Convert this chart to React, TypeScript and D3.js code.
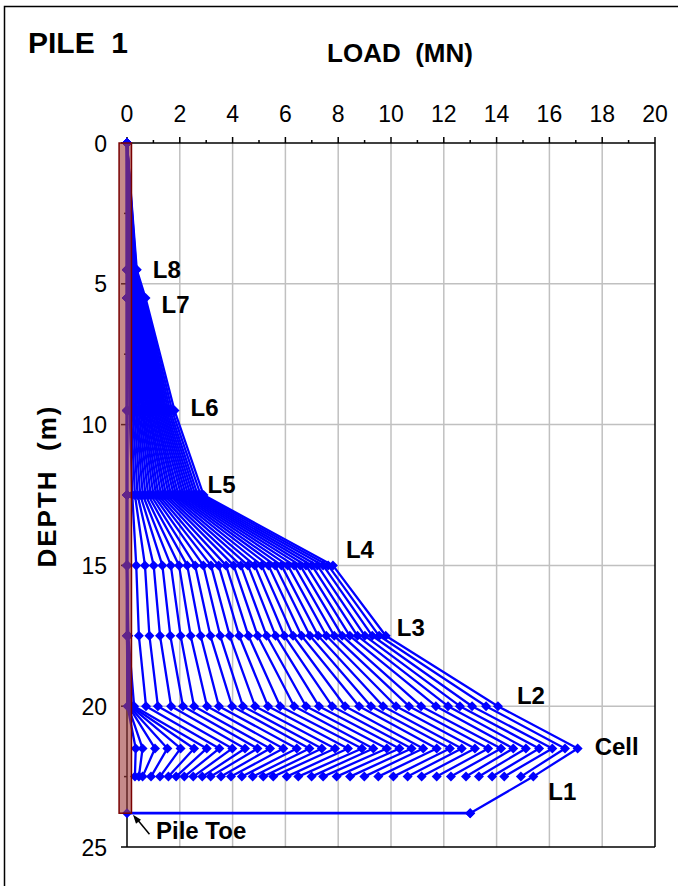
import React from 'react';
import * as d3 from 'd3';

const W = 678;
const H = 886;

// Gauge depths (m) from pile head down to the lowest gauge below the cell
const gaugeDepths = [0, 4.5, 5.5, 9.5, 12.5, 15, 17.5, 20, 21.5, 22.5];
const gaugeNames = ['Head', 'L8', 'L7', 'L6', 'L5', 'L4', 'L3', 'L2', 'Cell', 'L1'];
const toeDepth = 23.8;
const toeLoadFinal = 13.0;

// Load (MN) at each gauge for every load step (36 steps)
const loadHead = [0, 0, 0, 0, 0, 0, 0, 0, 0, 0, 0, 0, 0, 0, 0, 0, 0, 0, 0, 0, 0, 0, 0, 0, 0, 0, 0, 0, 0, 0, 0, 0, 0, 0, 0, 0];
const loadL8 = [0, 0, 0, 0, 0, 0, 0, 0.02, 0.03, 0.04, 0.05, 0.07, 0.08, 0.09, 0.10, 0.11, 0.12, 0.14, 0.15, 0.16, 0.17, 0.18, 0.19, 0.21, 0.22, 0.23, 0.24, 0.25, 0.26, 0.28, 0.29, 0.30, 0.32, 0.33, 0.35, 0.37];
const loadL7 = [0, 0, 0, 0, 0, 0, 0, 0.04, 0.06, 0.08, 0.10, 0.12, 0.14, 0.17, 0.19, 0.21, 0.23, 0.25, 0.27, 0.29, 0.31, 0.33, 0.35, 0.37, 0.40, 0.42, 0.44, 0.46, 0.48, 0.51, 0.53, 0.56, 0.58, 0.62, 0.66, 0.70];
const loadL6 = [0, 0, 0, 0, 0, 0, 0, 0.10, 0.15, 0.21, 0.27, 0.33, 0.38, 0.44, 0.50, 0.56, 0.61, 0.67, 0.73, 0.79, 0.84, 0.90, 0.96, 1.02, 1.07, 1.13, 1.19, 1.25, 1.31, 1.37, 1.43, 1.49, 1.56, 1.63, 1.71, 1.80];
const loadL5 = [0, 0, 0, 0, 0, 0, 0, 0.20, 0.30, 0.40, 0.50, 0.60, 0.70, 0.80, 0.90, 1.00, 1.10, 1.19, 1.29, 1.39, 1.48, 1.58, 1.67, 1.77, 1.86, 1.95, 2.05, 2.14, 2.23, 2.32, 2.41, 2.50, 2.59, 2.68, 2.79, 2.90];
const loadL4 = [0, 0, 0, 0, 0, 0, 0, 0.35, 0.68, 1.01, 1.34, 1.66, 1.97, 2.28, 2.58, 2.89, 3.18, 3.47, 3.75, 4.04, 4.31, 4.58, 4.84, 5.10, 5.36, 5.61, 5.85, 6.09, 6.33, 6.56, 6.78, 7.00, 7.21, 7.43, 7.62, 7.80];
const loadL3 = [0, 0, 0, 0.01, 0.02, 0.03, 0.05, 0.45, 0.85, 1.25, 1.64, 2.03, 2.41, 2.79, 3.16, 3.53, 3.89, 4.25, 4.60, 4.95, 5.29, 5.63, 5.96, 6.29, 6.61, 6.93, 7.24, 7.55, 7.85, 8.15, 8.44, 8.73, 9.01, 9.29, 9.55, 9.80];
const loadL2 = [0.02, 0.04, 0.06, 0.08, 0.12, 0.18, 0.27, 0.72, 1.17, 1.67, 2.12, 2.54, 3.03, 3.48, 3.98, 4.39, 4.85, 5.34, 5.80, 6.33, 6.78, 7.27, 7.77, 8.26, 8.79, 9.24, 9.70, 10.19, 10.68, 11.14, 11.70, 12.16, 12.61, 13.07, 13.60, 14.05];
const loadCell = [0.33, 0.59, 1.06, 1.53, 2.03, 2.54, 3.02, 3.50, 3.99, 4.47, 4.94, 5.42, 5.92, 6.43, 6.91, 7.38, 7.88, 8.37, 8.90, 9.33, 9.84, 10.32, 10.78, 11.22, 11.73, 12.23, 12.68, 13.18, 13.68, 14.17, 14.63, 15.11, 15.61, 16.11, 16.59, 17.07];
const loadL1 = [0.30, 0.45, 0.59, 0.91, 1.25, 1.57, 1.86, 2.17, 2.51, 2.85, 3.17, 3.56, 3.94, 4.35, 4.76, 5.16, 5.54, 6.05, 6.49, 6.99, 7.43, 7.94, 8.45, 8.99, 9.52, 10.09, 10.63, 11.16, 11.73, 12.27, 12.84, 13.33, 13.83, 14.29, 14.92, 15.39];

const gaugeLoads = [loadHead, loadL8, loadL7, loadL6, loadL5, loadL4, loadL3, loadL2, loadCell, loadL1];

// Pile outline in chart units
const pileLeft = -0.3;
const pileRight = 0.17;

const loadTicks = [0, 2, 4, 6, 8, 10, 12, 14, 16, 18, 20];
const loadMinorTicks = [1, 3, 5, 7, 9, 11, 13, 15, 17, 19];
const depthTicks = [0, 5, 10, 15, 20, 25];
const depthMinorTicks = [2.5, 7.5, 12.5, 17.5, 22.5];
const depthGrid = [5, 10, 15, 20];

const BLUE = '#0000ff';
const FONT = '"Liberation Sans", Arial, Helvetica, sans-serif';

// label placement relative to the final-step marker of each gauge
const labelOffsets: Record<string, [number, number]> = {
  L8: [16, 8],
  L7: [16, 15],
  L6: [16, 5],
  L5: [4, -2],
  L4: [13, -7],
  L3: [11, 0],
  L2: [19, -2],
  Cell: [17, 7],
  L1: [15, 23],
};

function diamond(cx: number, cy: number, r: number) {
  return `M${cx},${cy - r}L${cx + r},${cy}L${cx},${cy + r}L${cx - r},${cy}Z`;
}

export default function App() {
  const x = d3.scaleLinear().domain([0, 20]).range([127, 655]);
  const y = d3.scaleLinear().domain([0, 25]).range([143, 847]);

  const nSteps = loadCell.length;
  const steps: [number, number][][] = d3.range(nSteps).map((i) =>
    gaugeDepths.map((d, j) => [gaugeLoads[j][i], d] as [number, number])
  );
  steps[nSteps - 1].push([toeLoadFinal, toeDepth]);
  const toeLine: [number, number][] = [
    [0, toeDepth],
    [toeLoadFinal, toeDepth],
  ];

  const line = d3
    .line<[number, number]>()
    .x((p) => x(p[0]))
    .y((p) => y(p[1]));

  const last = nSteps - 1;
  const x0 = x(0);
  const yTop = y(0);
  const yBot = y(25);
  const xRight = x(20);
  const toeX = x(pileRight);
  const toeY = y(toeDepth);

  return (
    <svg
      width={W}
      height={H}
      style={{ position: 'absolute', left: 0, top: 0, background: '#fff' }}
      fontFamily={FONT}
    >
      <rect x={0} y={0} width={W} height={H} fill="#fff" />
      {/* outer frame */}
      <rect x={4.5} y={6.5} width={W + 20} height={H + 20} fill="none" stroke="#000" strokeWidth={1.5} />

      {/* grid */}
      {loadTicks.slice(1, -1).map((t) => (
        <line key={'gx' + t} x1={x(t)} x2={x(t)} y1={yTop} y2={yBot} stroke="#c0c0c0" strokeWidth={1.5} />
      ))}
      {depthGrid.map((t) => (
        <line key={'gy' + t} x1={x0} x2={xRight} y1={y(t)} y2={y(t)} stroke="#c0c0c0" strokeWidth={1.5} />
      ))}

      {/* plot border and axes */}
      <line x1={xRight} x2={xRight} y1={yTop} y2={yBot} stroke="#000" strokeWidth={1.5} />
      <line x1={x0} x2={xRight} y1={yBot} y2={yBot} stroke="#000" strokeWidth={1.5} />
      <line x1={x0} x2={xRight} y1={yTop} y2={yTop} stroke="#000" strokeWidth={1.5} />
      <line x1={x0} x2={x0} y1={yTop} y2={yBot} stroke="#000" strokeWidth={1.5} />
      {loadTicks.map((t) => (
        <line key={'tx' + t} x1={x(t)} x2={x(t)} y1={yTop} y2={yTop - 6} stroke="#000" strokeWidth={1.5} />
      ))}
      {loadMinorTicks.map((t) => (
        <line key={'mx' + t} x1={x(t)} x2={x(t)} y1={yTop} y2={yTop - 3} stroke="#000" strokeWidth={1.5} />
      ))}
      {depthTicks.map((t) => (
        <line key={'ty' + t} x1={x0} x2={x0 - 6} y1={y(t)} y2={y(t)} stroke="#000" strokeWidth={1.5} />
      ))}
      {depthMinorTicks.map((t) => (
        <line key={'my' + t} x1={x0} x2={x0 - 3} y1={y(t)} y2={y(t)} stroke="#000" strokeWidth={1.5} />
      ))}
      {loadTicks.map((t) => (
        <text key={'lx' + t} x={x(t)} y={121.5} fontSize={23} textAnchor="middle" fill="#000">
          {t}
        </text>
      ))}
      {depthTicks.map((t) => (
        <text key={'ly' + t} x={107} y={y(t) + 8.5} fontSize={23} textAnchor="end" fill="#000">
          {t}
        </text>
      ))}

      {/* load distribution for every step */}
      <g>
        {steps.map((s, i) => (
          <path key={'s' + i} d={line(s) || ''} fill="none" stroke={BLUE} strokeWidth={2.3} strokeLinejoin="round" />
        ))}
        <path d={line(toeLine) || ''} fill="none" stroke={BLUE} strokeWidth={2.8} />
        {steps.map((s, i) =>
          s.map((p, j) => <path key={'m' + i + '_' + j} d={diamond(x(p[0]), y(p[1]), 5)} fill={BLUE} />)
        )}
        {toeLine.map((p, j) => (
          <path key={'tm' + j} d={diamond(x(p[0]), y(p[1]), 5)} fill={BLUE} />
        ))}
      </g>

      {/* pile */}
      <rect
        x={x(pileLeft)}
        y={y(0)}
        width={x(pileRight) - x(pileLeft)}
        height={toeY - y(0)}
        fill="#a03c3c"
        fillOpacity={0.6}
        stroke="#7a0000"
        strokeWidth={1.5}
      />

      {/* gauge labels */}
      {gaugeNames.slice(1).map((name, k) => {
        const j = k + 1;
        const off = labelOffsets[name];
        return (
          <text
            key={'g' + name}
            x={x(gaugeLoads[j][last]) + off[0]}
            y={y(gaugeDepths[j]) + off[1]}
            fontSize={24}
            fontWeight="bold"
            fill="#000"
          >
            {name}
          </text>
        );
      })}

      {/* pile toe annotation */}
      <line x1={toeX + 18} y1={toeY + 21} x2={toeX + 4} y2={toeY + 4} stroke="#000" strokeWidth={1.5} />
      <path d={`M${toeX + 1.5},${toeY + 1.5} l3,9 l5,-4 Z`} fill="#000" />
      <text x={156} y={toeY + 26} fontSize={24} fontWeight="bold" fill="#000">
        Pile Toe
      </text>

      {/* titles */}
      <text x={28} y={53} fontSize={30} fontWeight="bold" fill="#000" style={{ whiteSpace: 'pre' }}>
        {'PILE  1'}
      </text>
      <text x={400} y={61.5} fontSize={26} fontWeight="bold" textAnchor="middle" fill="#000" style={{ whiteSpace: 'pre' }}>
        {'LOAD  (MN)'}
      </text>
      <text
        transform={`translate(56, 486) rotate(-90)`}
        fontSize={26}
        fontWeight="bold"
        letterSpacing={2}
        textAnchor="middle"
        fill="#000"
        style={{ whiteSpace: 'pre' }}
      >
        {'DEPTH  (m)'}
      </text>
    </svg>
  );
}
